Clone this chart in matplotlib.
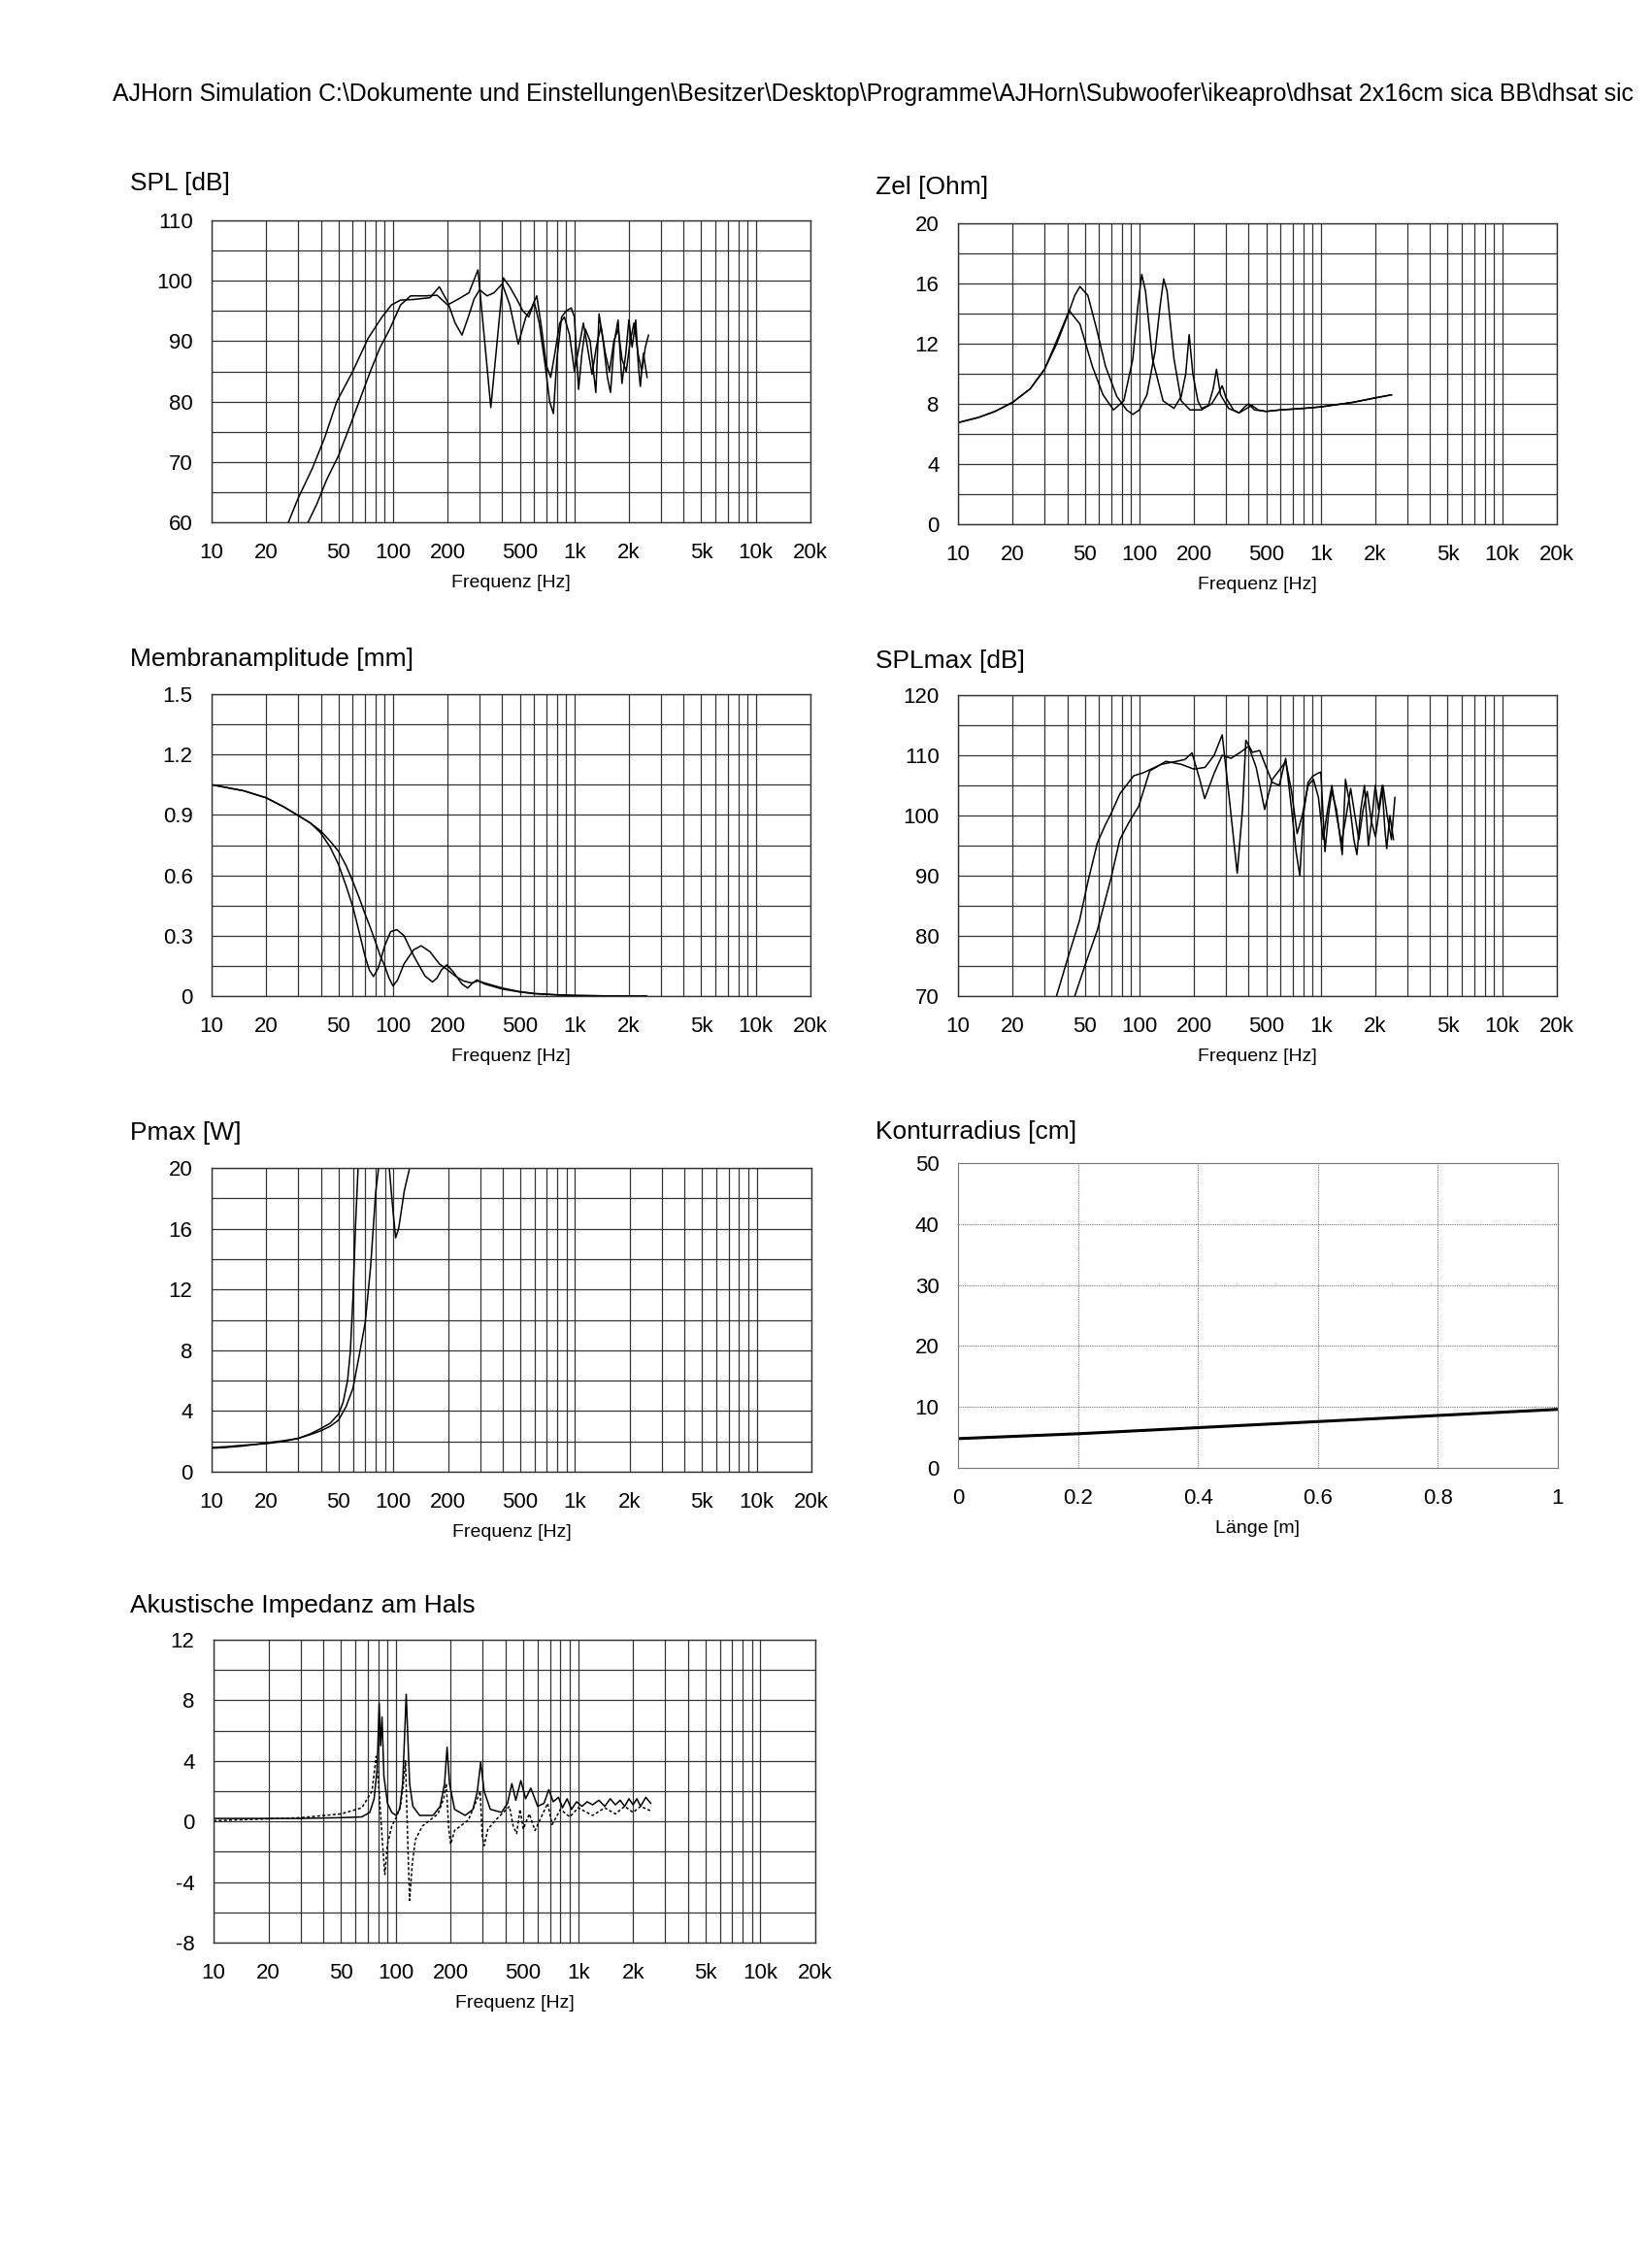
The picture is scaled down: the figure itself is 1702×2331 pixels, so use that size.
"""AJHorn simulation printout: seven panels (SPL, Zel, amplitude, SPLmax, Pmax, contour, throat impedance)."""
import matplotlib
matplotlib.use("Agg")
import matplotlib.pyplot as plt

W_PX, H_PX = 1702, 2331
DPI = 100

HEADER = (r"AJHorn Simulation C:\Dokumente und Einstellungen\Besitzer\Desktop\Programme"
          r"\AJHorn\Subwoofer\ikeapro\dhsat 2x16cm sica BB\dhsat sic")

FREQ_TICKS = [10, 20, 50, 100, 200, 500, 1000, 2000, 5000, 10000, 20000]
FREQ_LABELS = ["10", "20", "50", "100", "200", "500", "1k", "2k", "5k", "10k", "20k"]
FREQ_GRID = [m * d for d in (10, 100, 1000) for m in range(1, 10)] + [10000, 20000]

# --- SPL [dB] ---
SPL_A_F = [26.5, 30, 36, 42, 49, 60, 73, 87, 98, 110, 130, 160, 180, 200, 220, 240, 260, 280, 300, 330,
           360, 400, 440, 490, 540, 580, 620, 660, 700, 740, 780, 830, 880, 940, 1000, 1060, 1120, 1180,
           1250, 1320, 1400, 1480, 1560, 1650, 1740, 1830, 1930, 2030, 2130, 2240, 2350, 2460, 2560]
SPL_A = [60, 64, 69, 74, 80, 85, 90.5, 94, 96, 96.8, 96.9, 97.2, 99, 96.5, 93, 91, 94, 97, 98.5, 97.5,
         98, 99.5, 96, 89.5, 94, 95.5, 97.5, 92, 86, 84, 88, 93, 94, 91, 85, 89, 93, 89,
         84.5, 89, 92.5, 88, 85, 90, 92, 87, 85, 90, 93, 88, 85, 89, 91]
SPL_B_F = [34, 38, 43, 50, 58, 66, 75, 85, 96, 110, 125, 150, 175, 200, 230, 262, 294, 320, 346, 375,
           405, 440, 480, 520, 560, 600, 640, 690, 730, 766, 800, 850, 900, 960, 1000, 1054, 1100, 1148,
           1220, 1312, 1367, 1440, 1520, 1581, 1660, 1740, 1828, 1920, 1995, 2080, 2177, 2250, 2307,
           2400, 2515]
SPL_B = [60, 63, 67, 71, 76, 80.5, 85, 89, 92, 96, 97.5, 97.5, 97.6, 96, 97, 98, 101.8, 90, 79, 90,
         100.5, 99, 97, 95, 94, 96.5, 93, 86, 80, 78, 87, 94, 95, 95.5, 94, 82, 88, 92,
         90, 81.5, 94.5, 90, 84, 81.5, 90, 93.5, 83, 88, 93.5, 89, 93.5, 86, 82.5, 88, 84]

# --- Zel [Ohm] ---
ZEL_A_F = [10, 13, 16, 20, 25, 30, 35, 41, 47, 55, 63, 72, 82, 92, 98, 103, 108, 118, 135, 155,
           170, 180, 188, 197, 210, 220, 240, 255, 266, 280, 310, 354, 390, 417, 450, 500, 600, 800,
           1000, 1500, 2000, 2450]
ZEL_A = [6.75, 7.1, 7.5, 8.1, 9.0, 10.3, 12.2, 14.2, 13.3, 10.5, 8.6, 7.6, 8.2, 11, 14.5, 16.6, 15.5,
         11, 8.2, 7.7, 8.5, 10, 12.6, 10, 8.2, 7.7, 7.9, 9, 10.3, 8.6, 7.7, 7.4, 7.7, 7.9, 7.6, 7.5,
         7.6, 7.7, 7.8, 8.1, 8.4, 8.6]
ZEL_B_F = [10, 13, 16, 20, 25, 30, 35, 40, 44, 47, 52, 58, 65, 75, 85, 92, 100, 110, 122, 130,
           136, 142, 155, 170, 190, 220, 250, 275, 286, 300, 330, 354, 380, 400, 430, 500, 600, 800,
           1000, 1500, 2000, 2450]
ZEL_B = [6.75, 7.1, 7.5, 8.1, 9.0, 10.3, 12.0, 13.8, 15.2, 15.8, 15.2, 13, 10.5, 8.5, 7.6, 7.3, 7.6,
         8.6, 11.5, 14.5, 16.3, 15.5, 11, 8.2, 7.6, 7.6, 8.0, 8.8, 9.2, 8.4, 7.6, 7.4, 7.8, 8.0, 7.6,
         7.5, 7.6, 7.7, 7.8, 8.1, 8.4, 8.6]

# --- Membranamplitude [mm] ---
MEMB_A_F = [10, 15, 20, 25, 30, 35, 40, 45, 50, 55, 60, 65, 70, 74, 78, 83, 90, 97, 105, 115,
            130, 150, 165, 175, 185, 198, 215, 240, 258, 275, 290, 320, 400, 500, 600, 800, 1000,
            1500, 2000, 2500]
MEMB_A = [1.05, 1.02, 0.985, 0.94, 0.897, 0.86, 0.81, 0.74, 0.655, 0.55, 0.445, 0.32, 0.2, 0.13,
          0.097, 0.14, 0.25, 0.32, 0.33, 0.3, 0.2, 0.1, 0.07, 0.09, 0.13, 0.155, 0.12, 0.06, 0.04,
          0.065, 0.08, 0.06, 0.035, 0.02, 0.012, 0.006, 0.003, 0.001, 0.0, 0.0]
MEMB_B_F = [10, 15, 20, 25, 30, 35, 40, 45, 50, 55, 60, 65, 70, 75, 80, 85, 90, 95, 100, 106,
            115, 130, 143, 160, 180, 200, 220, 245, 270, 295, 320, 400, 500, 600, 800, 1000, 1500,
            2000, 2500]
MEMB_B = [1.05, 1.02, 0.985, 0.94, 0.897, 0.86, 0.82, 0.77, 0.72, 0.65, 0.57, 0.49, 0.41, 0.34,
          0.27, 0.2, 0.15, 0.09, 0.05, 0.08, 0.16, 0.23, 0.25, 0.22, 0.16, 0.13, 0.1, 0.075, 0.065,
          0.075, 0.065, 0.04, 0.022, 0.013, 0.006, 0.003, 0.001, 0.0, 0.0]

# --- SPLmax [dB] ---
SPLMAX_A_F = [34.9, 40, 46.7, 52, 58.7, 65, 70, 78, 93, 105, 132, 160, 178, 195, 215, 229, 258, 286,
              320, 360, 400, 440, 490, 540, 590, 640, 690, 740, 790, 850, 910, 970, 1030, 1090, 1150,
              1220, 1300, 1380, 1460, 1540, 1620, 1710, 1800, 1900, 2000, 2100, 2200, 2320, 2450, 2560]
SPLMAX_A = [70, 76, 82.5, 89, 95.5, 98.5, 100.4, 103.6, 106.6, 107.1, 108.5, 109, 109.3, 110.4, 106,
            102.8, 107, 110, 109.5, 110.5, 111.5, 108, 101, 106, 107.5, 109, 104, 97, 100, 105, 106,
            103, 96, 101, 105, 100, 95.5, 100, 104.5, 100, 96, 101, 104, 99, 96.5, 101, 105, 100, 96,
            103]
SPLMAX_B_F = [44, 50, 58.7, 70, 78, 88, 99, 114, 140, 170, 200, 230, 258, 286, 315, 346, 370, 386,
              420, 460, 500, 540, 590, 640, 690, 730, 766, 800, 850, 900, 960, 1000, 1054, 1100, 1148,
              1220, 1312, 1367, 1440, 1520, 1581, 1660, 1740, 1828, 1920, 1995, 2080, 2177, 2250,
              2307, 2400, 2515]
SPLMAX_B = [70, 75, 81, 89.8, 96, 99, 101.5, 107.4, 109, 108.5, 107.7, 108, 110, 113.4, 102, 90.4,
            101, 112.5, 110.5, 110.8, 108, 105.5, 105, 109.5, 101, 94, 90, 100, 105.5, 106.5, 107,
            107.2, 94, 100, 104, 101, 93.5, 106, 102, 96, 93.5, 101, 105, 95, 100, 105, 101, 105, 98,
            94.5, 100, 96]

# --- Pmax [W] (curve is clipped at the 20 W top of the chart) ---
PMAX_A_F = [10, 12, 15, 20, 25, 30, 35, 40, 45, 50, 53, 56, 58, 60, 62, 64, 70, 80, 95, 99,
            103, 107, 115, 123, 150, 300, 1000, 2500]
PMAX_A = [1.55, 1.6, 1.7, 1.9, 2.05, 2.2, 2.5, 2.85, 3.2, 3.8, 4.6, 6.0, 7.9, 11.5, 16.3, 20, 20, 20,
          20, 17.5, 15.4, 16, 18.5, 20, 20, 20, 20, 20]
PMAX_B_F = [10, 12, 15, 20, 25, 30, 35, 40, 45, 50, 55, 60, 65, 70, 75, 80, 83, 100, 300, 1000, 2500]
PMAX_B = [1.6, 1.65, 1.75, 1.85, 2.0, 2.2, 2.45, 2.7, 3.0, 3.4, 4.3, 5.5, 7.7, 9.8, 13.5, 18.4, 20,
          20, 20, 20, 20]

# --- Konturradius [cm] over Länge [m] ---
KONTUR_L = [0, 0.1, 0.2, 0.3, 0.4, 0.5, 0.6, 0.7, 0.8, 0.9, 1.0]
KONTUR_R = [4.8, 5.2, 5.6, 6.1, 6.6, 7.1, 7.6, 8.1, 8.6, 9.1, 9.6]

# --- Akustische Impedanz am Hals (real part solid, imaginary part dotted) ---
AKU_RE_F = [10, 30, 50, 65, 72, 76, 79, 81, 82.5, 84, 86, 90, 95, 100, 105, 109, 112, 114, 116, 119,
            124, 135, 160, 175, 185, 191, 197, 210, 240, 265, 280, 292, 305, 330, 380, 410, 433, 455,
            485, 515, 550, 600, 650, 690, 730, 780, 820, 870, 920, 980, 1050, 1120, 1200, 1300, 1400,
            1500, 1600, 1700, 1800, 1900, 2000, 2100, 2200, 2350, 2500]
AKU_RE = [0.2, 0.2, 0.25, 0.3, 0.6, 1.5, 3.5, 7.8, 5.0, 6.9, 3.0, 1.2, 0.6, 0.4, 0.8, 2.5, 6.0, 8.4,
          6.0, 2.5, 1.0, 0.4, 0.4, 1.0, 2.5, 4.9, 2.5, 0.8, 0.4, 0.8, 2.0, 3.9, 2.0, 0.8, 0.6, 1.2,
          2.5, 1.4, 2.7, 1.5, 2.2, 1.0, 1.2, 2.1, 1.3, 1.6, 0.9, 1.5, 0.8, 1.3, 1.0, 1.3, 1.1, 1.4,
          1.0, 1.5, 1.1, 1.4, 1.0, 1.5, 1.1, 1.5, 1.0, 1.6, 1.2]
AKU_IM_F = [10, 30, 50, 65, 74, 78, 81, 84, 87, 90, 95, 100, 106, 110, 113, 116, 119, 123, 128, 140,
            170, 183, 189, 195, 200, 210, 250, 280, 290, 298, 305, 320, 360, 420, 440, 460, 480, 500,
            540, 580, 680, 720, 800, 900, 1000, 1200, 1400, 1600, 1800, 2000, 2200, 2500]
AKU_IM = [0.05, 0.25, 0.5, 0.9, 2.0, 4.3, 2.0, -1.0, -3.5, -1.5, -0.3, 0.2, 1.0, 2.5, 4.0, -1.0,
          -5.2, -2.8, -1.2, -0.3, 0.5, 1.5, 2.5, -0.5, -1.5, -0.6, 0.1, 1.5, 2.0, -1.0, -1.6, -0.5,
          0.2, 1.0, -0.3, -0.8, 0.8, -0.5, 0.5, -0.6, 1.2, -0.2, 0.8, 0.3, 0.9, 0.4, 0.9, 0.5, 1.0,
          0.6, 1.0, 0.7]

TICK_FONT = ["Liberation Sans Narrow", "Liberation Sans", "DejaVu Sans"]
TEXT_FONT = ["Liberation Sans", "DejaVu Sans"]
GRID_COLOR = "#333333"


def add_panel(fig, box):
    # box in pixels: left, top, right, bottom
    l, t, r, b = box
    return fig.add_axes([l / W_PX, 1 - b / H_PX, (r - l) / W_PX, (b - t) / H_PX])


def panel_title(fig, x_px, y_px, text):
    fig.text(x_px / W_PX, 1 - y_px / H_PX, text, ha="left", va="center",
             fontsize=19, family=TEXT_FONT)


def style_axes(ax, yticks, ylabels, ygrid):
    ax.set_yticks(yticks)
    ax.set_yticklabels(ylabels, family=TICK_FONT, fontsize=16)
    ax.set_yticks(ygrid, minor=True)
    ax.tick_params(which="both", length=0)
    ax.tick_params(axis="y", pad=14)
    ax.tick_params(axis="x", pad=15)
    ax.grid(which="both", color=GRID_COLOR, linewidth=0.9)
    ax.set_axisbelow(True)
    for s in ax.spines.values():
        s.set_color(GRID_COLOR)
        s.set_linewidth(1.0)


def freq_panel(fig, box, title, title_xy, series, ylim, yticks, ylabels, ygrid):
    ax = add_panel(fig, box)
    ax.set_xscale("log")
    for f, v, ls in series:
        ax.plot(f, v, color="black", linewidth=1.1, linestyle=ls)
    ax.set_xticks(FREQ_TICKS)
    ax.set_xticklabels(FREQ_LABELS, family=TICK_FONT, fontsize=16)
    ax.set_xticks(FREQ_GRID, minor=True)
    ax.xaxis.set_minor_formatter(plt.NullFormatter())
    style_axes(ax, yticks, ylabels, ygrid)
    # limits last: setting the grid ticks would otherwise widen the view
    ax.set_xlim(10, 20000)
    ax.set_ylim(*ylim)
    ax.set_xlabel("Frequenz [Hz]", family=TICK_FONT, fontsize=14, labelpad=9)
    panel_title(fig, *title_xy, title)
    return ax


def main():
    fig = plt.figure(figsize=(W_PX / DPI, H_PX / DPI), dpi=DPI)
    fig.text(116 / W_PX, 1 - 97 / H_PX, HEADER, ha="left", va="center", fontsize=17.9, family=TEXT_FONT)

    freq_panel(fig, (218, 227, 835, 538), "SPL [dB]", (134, 189),
               [(SPL_A_F, SPL_A, "-"), (SPL_B_F, SPL_B, "-")], (60, 110),
               range(60, 111, 10), [str(v) for v in range(60, 111, 10)], range(60, 111, 5))

    freq_panel(fig, (987, 230, 1604, 540), "Zel [Ohm]", (902, 193),
               [(ZEL_A_F, ZEL_A, "-"), (ZEL_B_F, ZEL_B, "-")], (0, 20),
               range(0, 21, 4), [str(v) for v in range(0, 21, 4)], range(0, 21, 2))

    mm_ticks = [0, 0.3, 0.6, 0.9, 1.2, 1.5]
    freq_panel(fig, (218, 715, 835, 1026), "Membranamplitude [mm]", (134, 679),
               [(MEMB_A_F, MEMB_A, "-"), (MEMB_B_F, MEMB_B, "-")], (0, 1.5),
               mm_ticks, ["0", "0.3", "0.6", "0.9", "1.2", "1.5"],
               [i * 0.15 for i in range(11)])

    freq_panel(fig, (987, 716, 1604, 1026), "SPLmax [dB]", (902, 681),
               [(SPLMAX_A_F, SPLMAX_A, "-"), (SPLMAX_B_F, SPLMAX_B, "-")], (70, 120),
               range(70, 121, 10), [str(v) for v in range(70, 121, 10)], range(70, 121, 5))

    freq_panel(fig, (218, 1203, 836, 1516), "Pmax [W]", (134, 1167),
               [(PMAX_A_F, PMAX_A, "-"), (PMAX_B_F, PMAX_B, "-")], (0, 20),
               range(0, 21, 4), [str(v) for v in range(0, 21, 4)], range(0, 21, 2))

    freq_panel(fig, (220, 1689, 840, 2001), "Akustische Impedanz am Hals", (134, 1654),
               [(AKU_RE_F, AKU_RE, "-"), (AKU_IM_F, AKU_IM, (0, (2, 1.5)))], (-8, 12),
               range(-8, 13, 4), [str(v) for v in range(-8, 13, 4)], range(-8, 13, 2))

    # contour radius: linear axes, lighter dotted grid
    ax = add_panel(fig, (987, 1198, 1605, 1512))
    ax.plot(KONTUR_L, KONTUR_R, color="black", linewidth=2.2)
    ax.set_xlim(0, 1)
    ax.set_ylim(0, 50)
    ax.set_xticks([0, 0.2, 0.4, 0.6, 0.8, 1.0])
    ax.set_xticklabels(["0", "0.2", "0.4", "0.6", "0.8", "1"], family=TICK_FONT, fontsize=16)
    ax.set_yticks(range(0, 51, 10))
    ax.set_yticklabels([str(v) for v in range(0, 51, 10)], family=TICK_FONT, fontsize=16)
    ax.tick_params(length=0)
    ax.tick_params(axis="y", pad=14)
    ax.tick_params(axis="x", pad=15)
    ax.grid(color="#777777", linewidth=0.8, linestyle=(0, (1, 1)))
    for s in ax.spines.values():
        s.set_color("#777777")
        s.set_linewidth(0.8)
        s.set_linestyle((0, (1, 1)))
    ax.set_xlabel("Länge [m]", family=TICK_FONT, fontsize=14, labelpad=9)
    panel_title(fig, 902, 1166, "Konturradius [cm]")

    fig.savefig("out.png", dpi=DPI, facecolor="white")
    plt.close(fig)


if __name__ == "__main__":
    main()
